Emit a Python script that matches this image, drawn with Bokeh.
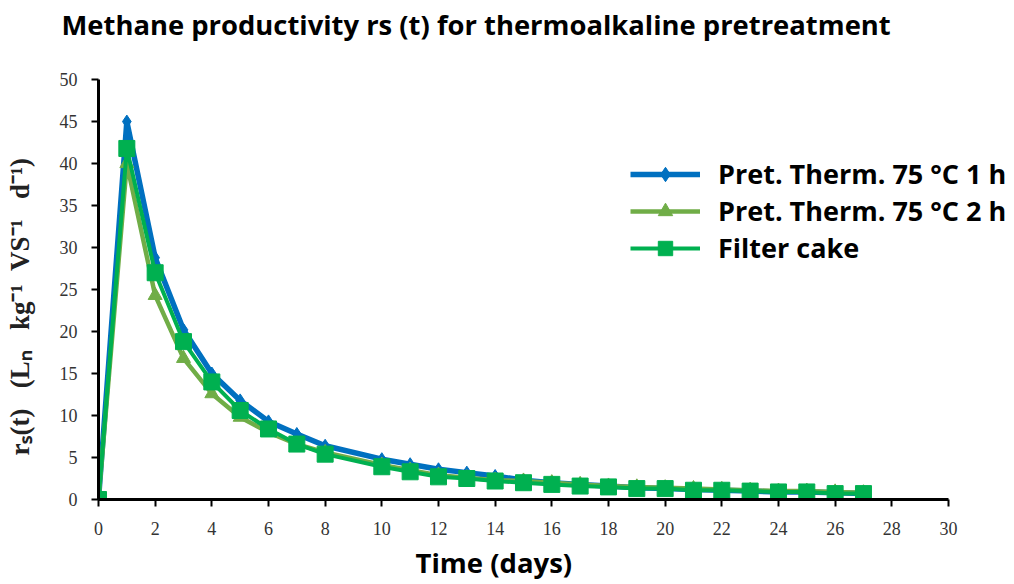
from bokeh.plotting import figure
from bokeh.models import Legend, LegendItem, Title, FixedTicker
from bokeh.embed import file_html
from bokeh.resources import INLINE

days = [0, 1, 2, 3, 4, 5, 6, 7, 8, 10, 11, 12, 13, 14, 15, 16, 17, 18, 19, 20, 21, 22, 23, 24, 25, 26, 27]
therm_1h = [0, 45.0, 28.8, 20.2, 15.0, 11.8, 9.3, 7.8, 6.4, 4.8, 4.2, 3.6, 3.2, 2.8, 2.3, 2.0, 1.8, 1.6, 1.4, 1.3, 1.2, 1.1, 1.0, 0.9, 0.9, 0.8, 0.7]
therm_2h = [0, 40.0, 24.3, 16.8, 12.6, 9.8, 8.0, 6.6, 5.6, 4.1, 3.5, 2.9, 2.6, 2.3, 2.2, 2.0, 1.8, 1.6, 1.5, 1.4, 1.3, 1.2, 1.1, 1.0, 1.0, 0.9, 0.8]
filter_cake = [0, 41.8, 27.0, 18.8, 14.0, 10.6, 8.4, 6.6, 5.4, 3.9, 3.3, 2.7, 2.5, 2.2, 2.0, 1.8, 1.6, 1.5, 1.3, 1.3, 1.1, 1.1, 1.0, 0.9, 0.9, 0.7, 0.7]

x_ticks = list(range(0, 31, 2))
y_ticks = list(range(0, 51, 5))

series_names = ["Pret. Therm. 75 \u00b0C 1 h", "Pret. Therm. 75 \u00b0C 2 h", "Filter cake"]
colors = ["#0070C0", "#70AD47", "#00B050"]

p = figure(width=1014, height=584, x_range=(0, 32.26), y_range=(0, 53.94),
           output_backend="svg", toolbar_location=None,
           min_border_left=98, min_border_right=2, min_border_top=0, min_border_bottom=85)
p.background_fill_color = "white"
p.border_fill_color = "white"
p.outline_line_color = None
p.xgrid.visible = False
p.ygrid.visible = False

r1l = p.line(days, therm_1h, line_color=colors[0], line_width=5.5)
r1m = p.scatter(days, therm_1h, marker="diamond", size=13, fill_color=colors[0], line_color=colors[0])
r2l = p.line(days, therm_2h, line_color=colors[1], line_width=4.5)
r2m = p.scatter(days, therm_2h, marker="triangle", size=14, fill_color=colors[1], line_color=colors[1])
r3l = p.line(days, filter_cake, line_color=colors[2], line_width=4)
r3m = p.scatter(days, filter_cake, marker="square", size=16, fill_color=colors[2], line_color=colors[2])

for ax in (p.xaxis[0], p.yaxis[0]):
    ax.axis_line_color = "black"
    ax.axis_line_width = 3
    ax.major_tick_line_color = "black"
    ax.major_tick_line_width = 2
    ax.major_tick_in = 0
    ax.major_tick_out = 7
    ax.minor_tick_line_color = None
    ax.major_label_text_font = "Liberation Serif"
    ax.major_label_text_font_size = "18px"
    ax.major_label_text_color = "#333333"

p.xaxis[0].ticker = FixedTicker(ticks=x_ticks)
p.xaxis[0].bounds = (0, 30)
p.yaxis[0].ticker = FixedTicker(ticks=y_ticks)
p.yaxis[0].bounds = (0, 50)
p.xaxis[0].major_label_standoff = 15
p.yaxis[0].major_label_standoff = 14

pad = "\u00a0" * 10
p.yaxis[0].axis_label = ("r\u209b(t)\u00a0\u00a0\u00a0(L\u2099\u00a0\u00a0\u00a0kg\u207b\u00b9\u00a0\u00a0VS\u207b\u00b9"
                         "\u00a0\u00a0\u00a0d\u207b\u00b9)" + pad)
p.yaxis[0].axis_label_text_font = "Liberation Serif"
p.yaxis[0].axis_label_text_font_style = "bold"
p.yaxis[0].axis_label_text_font_size = "27px"
p.yaxis[0].axis_label_text_color = "#222222"
p.yaxis[0].axis_label_standoff = 22

p.add_layout(Title(text="Time (days)", align="left", offset=317, standoff=8,
                   text_line_height=1.0,
                   text_font="Open Sans", text_font_style="bold", text_font_size="27.5px",
                   text_color="black"), "below")

p.title.text = "Methane productivity rs (t) for thermoalkaline pretreatment"
p.title.align = "left"
p.title.offset = -37
p.title.standoff = 7
p.title.text_font = "Open Sans"
p.title.text_font_style = "bold"
p.title.text_font_size = "27.4px"
p.title.text_color = "black"

legend = Legend(items=[
    LegendItem(label=series_names[0], renderers=[r1l, r1m]),
    LegendItem(label=series_names[1], renderers=[r2l, r2m]),
    LegendItem(label=series_names[2], renderers=[r3l, r3m]),
], location=(532, 233))
legend.border_line_color = None
legend.background_fill_alpha = 0
legend.padding = 0
legend.spacing = 0
legend.glyph_width = 70
legend.glyph_height = 36
legend.label_height = 36
legend.label_standoff = 18
legend.label_text_font = "Open Sans"
legend.label_text_font_style = "bold"
legend.label_text_font_size = "27px"
legend.label_text_color = "black"
p.add_layout(legend)

open("out.html", "w").write(file_html(p, INLINE))
